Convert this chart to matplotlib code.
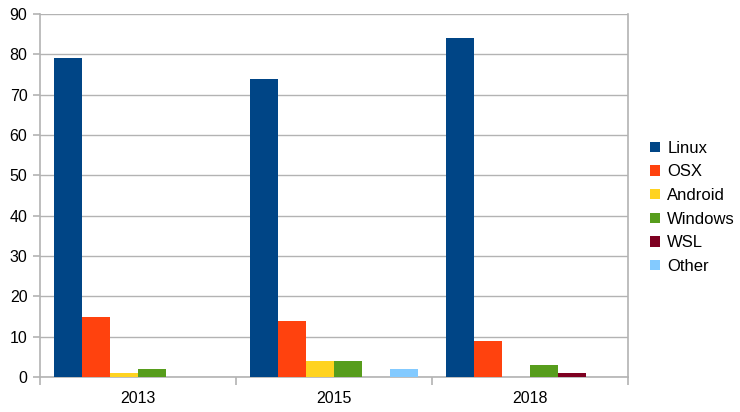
import matplotlib
matplotlib.use("Agg")
import matplotlib.pyplot as plt
import numpy as np

categories = ["2013", "2015", "2018"]
series_names = ["Linux", "OSX", "Android", "Windows", "WSL", "Other"]
linux = [79, 74, 84]
osx = [15, 14, 9]
android = [1, 4, 0]
windows = [2, 4, 3]
wsl = [0, 0, 1]
other = [0, 2, 0]
colors = ["#004586", "#ff420e", "#ffd320", "#579d1c", "#7e0021", "#83caff"]
yticks = [0, 10, 20, 30, 40, 50, 60, 70, 80, 90]

plt.rcParams['font.family'] = ['Liberation Sans', 'DejaVu Sans']

fig = plt.figure(figsize=(7.4, 4.12), dpi=100)
ax = fig.add_axes([40/740, 1-377/412, (628-40)/740, (377-14)/412])

data = [linux, osx, android, windows, wsl, other]
n = len(data)
w = 1/7
x = np.arange(len(categories))
for i, (name, vals, c) in enumerate(zip(series_names, data, colors)):
    ax.bar(x - 0.5 + w/2 + w*(i+0.5), vals, width=w, color=c, label=name, zorder=3)

ax.set_xlim(-0.5, len(categories)-0.5)
ax.set_ylim(0, 90)
ax.set_yticks(yticks)
ax.set_xticks(x)
ax.set_xticklabels(categories)
ax.set_xticks(np.arange(len(categories)+1)-0.5, minor=True)
ax.tick_params(axis='x', which='major', length=0, labelsize=11.5, pad=10)
ax.tick_params(axis='x', which='minor', length=6, color='#b3b3b3', width=1.2)
ax.tick_params(axis='y', length=5, color='#b3b3b3', width=1.2, labelsize=11.5, pad=4)
ax.yaxis.grid(True, color='#b3b3b3', linewidth=1, zorder=0)
for s in ax.spines.values():
    s.set_color('#b3b3b3')
    s.set_linewidth(1.2)
ax.spines['top'].set_visible(False)

leg = fig.legend(loc='upper left', bbox_to_anchor=(643/740, 1-134/412), frameon=False,
                 fontsize=12, handlelength=0.6, handleheight=0.6, handletextpad=0.45,
                 labelspacing=0.52, borderaxespad=0)

fig.savefig("out.png", dpi=100)
